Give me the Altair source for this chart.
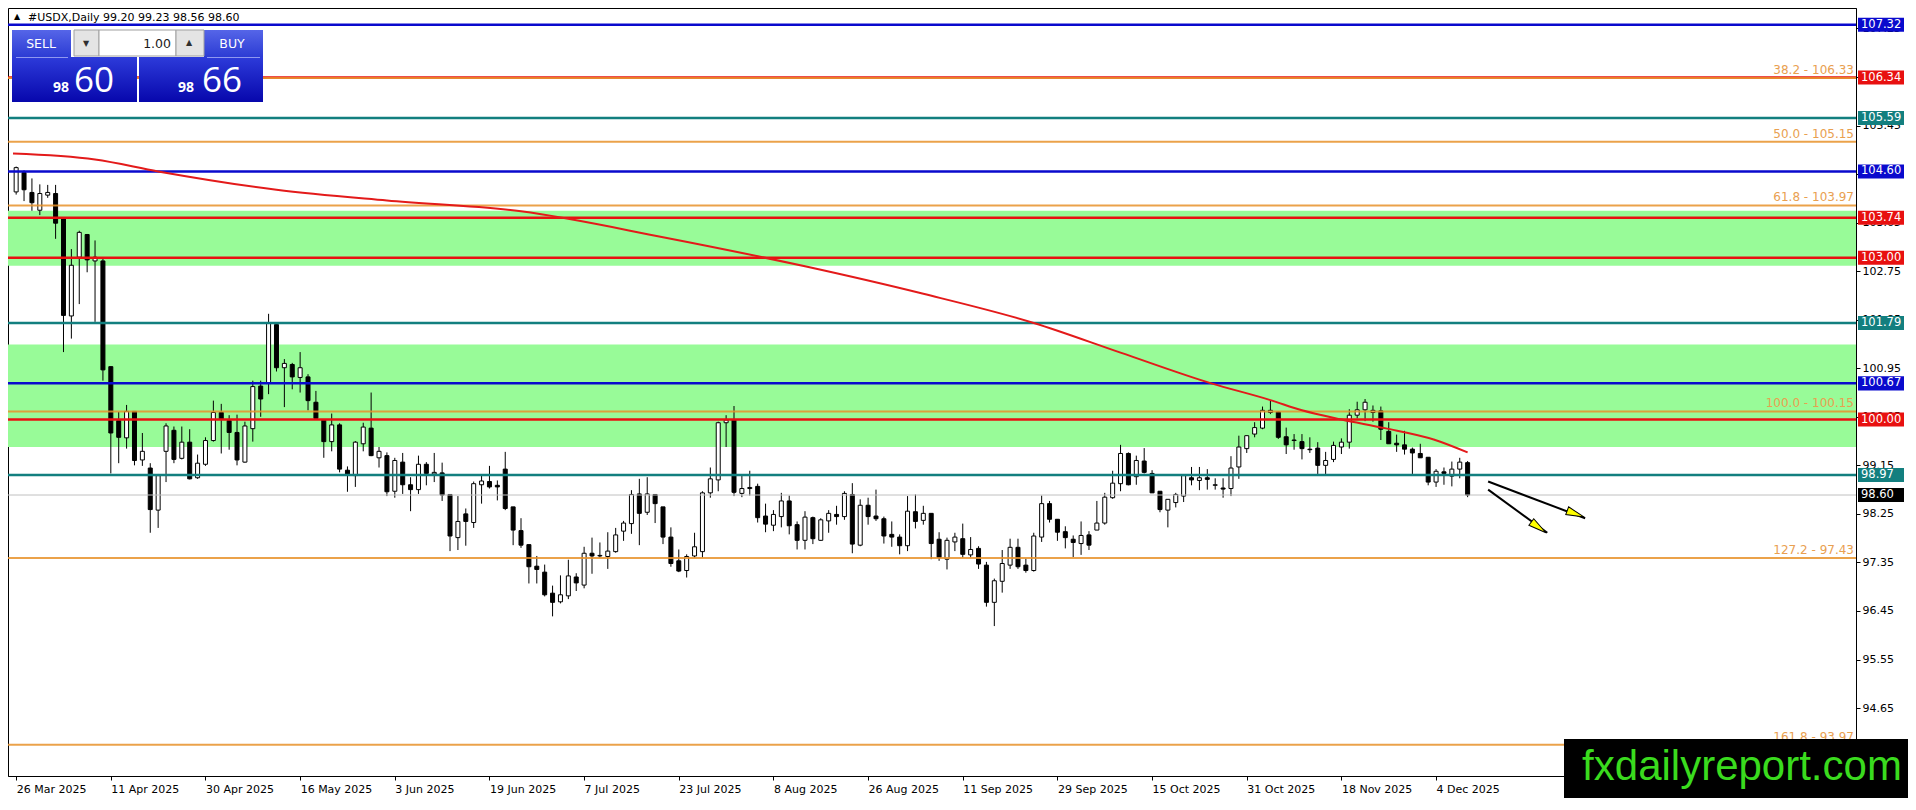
import altair as alt
import pandas as pd

W, H = 1848, 768
X_DOM = [-0.4, 232.6]
Y_DOM = [93.39, 107.63]
FONT = "DejaVu Sans"

# ---------------- data ----------------
opens = [104.22, 104.58, 104.21, 103.88, 104.16, 104.19, 103.72, 101.92, 103.01, 103.43,
         102.94, 102.94, 100.98, 99.98, 99.66, 100.15, 99.25, 99.10, 98.32, 99.41,
         99.80, 99.28, 99.58, 98.92, 99.17, 99.61, 100.13, 99.98, 99.76, 99.21,
         99.83, 100.62, 100.67, 101.76, 100.96, 101.02, 100.78, 100.79, 100.32, 99.99,
         99.59, 99.90, 99.06, 98.96, 99.55, 99.84, 99.29, 99.33, 98.67, 99.21,
         98.79, 98.70, 99.17, 98.99, 99.01, 98.61, 97.81, 98.25, 98.09, 98.79,
         98.85, 98.78, 99.08, 98.38, 97.94, 97.68, 97.28, 97.17, 96.78, 96.62,
         96.73, 97.08, 96.93, 97.52, 97.47, 97.46, 97.55, 97.93, 98.07, 98.62,
         98.28, 98.61, 98.38, 97.82, 97.38, 97.20, 97.47, 97.55, 98.64, 98.88,
         99.94, 99.99, 98.63, 98.72, 98.76, 98.21, 98.04, 98.20, 98.49, 98.05,
         97.76, 98.18, 97.76, 98.12, 98.24, 98.20, 98.61, 97.67, 98.41, 98.21,
         98.16, 97.87, 97.82, 97.66, 98.29, 98.13, 98.26, 97.78, 97.41, 97.73,
         97.79, 97.49, 97.61, 97.30, 96.61, 97.00, 97.30, 97.63, 97.30, 97.20,
         97.82, 98.44, 98.15, 97.92, 97.78, 97.70, 97.86, 97.95, 98.08, 98.55,
         98.81, 99.37, 98.94, 99.23, 99.00, 98.67, 98.32, 98.46, 98.58, 98.92,
         98.87, 98.92, 98.78, 98.73, 98.72, 99.12, 99.46, 99.73, 99.84, 100.13,
         100.14, 99.68, 99.62, 99.59, 99.45, 99.47, 99.15, 99.26, 99.49, 99.58,
         100.08, 100.18, 100.13, 100.16, 99.78, 99.56, 99.53, 99.45, 99.37, 99.30,
         98.84, 99.03, 98.95, 99.08, 99.20]
highs = [104.69, 104.62, 104.47, 104.36, 104.35, 104.35, 103.75, 103.16, 103.50, 103.44,
         103.32, 102.99, 100.98, 100.14, 100.27, 100.15, 99.75, 99.19, 98.99, 99.93,
         99.87, 99.87, 99.82, 99.35, 99.67, 100.35, 100.29, 100.08, 100.09, 99.96,
         100.72, 100.72, 101.96, 101.79, 101.12, 101.05, 101.25, 100.84, 100.53, 100.00,
         100.11, 99.93, 99.13, 99.60, 99.94, 100.50, 99.49, 99.39, 99.29, 99.38,
         98.93, 99.33, 99.21, 99.38, 99.20, 98.61, 98.58, 98.35, 98.85, 98.96,
         99.14, 98.87, 99.40, 98.38, 98.17, 97.68, 97.47, 97.31, 96.92, 97.11,
         97.40, 97.15, 97.64, 97.81, 97.72, 97.91, 97.99, 98.12, 98.69, 98.90,
         98.93, 98.61, 98.38, 98.00, 97.59, 97.50, 97.90, 98.67, 99.11, 99.96,
         100.08, 100.25, 98.96, 99.05, 98.81, 98.44, 98.32, 98.64, 98.59, 98.11,
         98.30, 98.20, 98.17, 98.32, 98.40, 98.67, 98.82, 98.52, 98.55, 98.70,
         98.20, 98.11, 97.87, 98.58, 98.61, 98.40, 98.26, 97.91, 97.81, 97.90,
         98.07, 97.82, 97.65, 97.36, 97.05, 97.58, 97.79, 97.79, 97.42, 97.90,
         98.59, 98.49, 98.15, 98.02, 97.85, 98.11, 97.93, 98.49, 98.64, 99.05,
         99.53, 99.39, 99.33, 99.47, 99.06, 98.67, 98.52, 98.64, 98.96, 99.12,
         99.12, 99.08, 98.91, 98.91, 99.32, 99.70, 99.70, 99.95, 100.24, 100.35,
         100.15, 99.85, 99.73, 99.73, 99.67, 99.58, 99.40, 99.59, 99.65, 100.19,
         100.33, 100.38, 100.26, 100.24, 99.95, 99.72, 99.79, 99.48, 99.55, 99.30,
         99.08, 99.11, 99.22, 99.29, 99.23]
lows = [104.17, 104.05, 103.87, 103.79, 104.11, 103.35, 101.25, 101.50, 102.14, 102.73,
        101.81, 100.72, 99.00, 99.19, 99.46, 99.15, 99.14, 97.90, 97.99, 98.84,
        99.19, 99.26, 98.89, 98.90, 99.14, 99.59, 99.37, 99.44, 99.15, 99.20,
        99.59, 100.05, 100.47, 100.89, 100.23, 100.56, 100.50, 100.17, 100.00, 99.29,
        99.41, 99.02, 98.66, 98.75, 99.41, 99.32, 99.11, 98.58, 98.55, 98.62,
        98.30, 98.62, 98.78, 98.84, 98.49, 97.56, 97.58, 97.66, 97.99, 98.44,
        98.72, 98.50, 98.32, 97.67, 97.62, 96.96, 96.96, 96.72, 96.35, 96.59,
        96.67, 96.82, 96.87, 97.14, 97.44, 97.23, 97.53, 97.75, 97.88, 97.67,
        98.23, 98.08, 97.69, 97.27, 97.17, 97.07, 97.44, 97.44, 98.55, 98.67,
        99.49, 98.58, 98.56, 98.59, 98.09, 97.91, 97.93, 98.00, 97.87, 97.59,
        97.59, 97.69, 97.75, 97.90, 98.05, 98.14, 97.52, 97.65, 98.05, 98.12,
        97.70, 97.64, 97.50, 97.56, 97.98, 98.05, 97.41, 97.38, 97.22, 97.56,
        97.44, 97.44, 97.23, 96.53, 96.17, 96.79, 97.23, 97.23, 97.16, 97.18,
        97.73, 98.09, 97.75, 97.61, 97.45, 97.49, 97.58, 97.95, 98.05, 98.53,
        98.67, 98.78, 98.79, 99.00, 98.64, 98.28, 98.00, 98.37, 98.47, 98.78,
        98.69, 98.70, 98.70, 98.55, 98.58, 98.90, 99.38, 99.67, 99.82, 100.10,
        99.64, 99.36, 99.44, 99.26, 99.38, 98.99, 98.99, 99.21, 99.36, 99.46,
        100.02, 99.97, 99.96, 99.62, 99.55, 99.40, 99.35, 98.99, 99.29, 98.78,
        98.75, 98.79, 98.76, 98.91, 98.56]
closes = [104.67, 104.26, 104.02, 104.19, 104.21, 103.64, 101.93, 102.86, 103.47, 102.96,
          103.01, 100.92, 99.75, 99.67, 100.15, 99.24, 99.41, 98.33, 98.96, 99.88,
          99.26, 99.58, 98.90, 99.19, 99.61, 100.13, 100.00, 99.76, 99.25, 99.88,
          100.61, 100.38, 101.78, 100.96, 101.04, 100.79, 100.96, 100.35, 100.02, 99.59,
          99.90, 99.08, 98.99, 99.58, 99.86, 99.33, 99.41, 98.66, 99.24, 98.79,
          98.70, 99.17, 99.00, 99.02, 98.60, 97.84, 98.11, 98.11, 98.81, 98.86,
          98.75, 98.75, 98.35, 97.95, 97.67, 97.27, 97.22, 96.75, 96.61, 96.75,
          97.10, 96.97, 97.52, 97.47, 97.48, 97.56, 97.86, 98.08, 98.61, 98.26,
          98.62, 98.44, 97.82, 97.33, 97.19, 97.46, 97.64, 98.64, 98.90, 99.94,
          99.99, 98.65, 98.72, 98.74, 98.18, 98.06, 98.24, 98.49, 98.03, 97.76,
          98.19, 97.79, 98.14, 98.26, 98.20, 98.63, 97.69, 98.41, 98.20, 98.16,
          97.84, 97.82, 97.66, 98.30, 98.11, 98.26, 97.70, 97.44, 97.76, 97.82,
          97.50, 97.59, 97.32, 96.61, 97.01, 97.33, 97.63, 97.27, 97.20, 97.84,
          98.44, 98.15, 97.91, 97.81, 97.72, 97.85, 97.67, 98.08, 98.56, 98.82,
          99.37, 98.79, 99.24, 99.02, 98.64, 98.33, 98.52, 98.61, 98.96, 98.88,
          98.92, 98.89, 98.79, 98.71, 99.10, 99.49, 99.70, 99.85, 100.17, 100.17,
          99.67, 99.53, 99.61, 99.46, 99.44, 99.15, 99.24, 99.52, 99.58, 100.08,
          100.18, 100.32, 100.17, 99.82, 99.55, 99.53, 99.45, 99.38, 99.29, 98.84,
          99.04, 99.00, 99.08, 99.21, 98.60]

date_labels = ["26 Mar 2025", "11 Apr 2025", "30 Apr 2025", "16 May 2025", "3 Jun 2025",
               "19 Jun 2025", "7 Jul 2025", "23 Jul 2025", "8 Aug 2025", "26 Aug 2025",
               "11 Sep 2025", "29 Sep 2025", "15 Oct 2025", "31 Oct 2025", "18 Nov 2025",
               "4 Dec 2025"]
date_ticks = [0, 12, 24, 36, 48, 60, 72, 84, 96, 108, 120, 132, 144, 156, 168, 180]
y_ticks = [94.65, 95.55, 96.45, 97.35, 98.25, 99.15, 100.05, 100.95, 101.85,
           102.75, 103.65, 104.55, 105.45, 106.35, 107.25]

ma_idx = [-0.4, 10, 18, 33, 47, 64, 82, 100, 115, 129, 140, 151.5, 159, 163, 168, 173.5, 179.7, 184]
ma_val = [104.93, 104.82, 104.60, 104.26, 104.06, 103.86, 103.38, 102.84, 102.33, 101.79,
          101.24, 100.67, 100.36, 100.17, 100.00, 99.84, 99.63, 99.39]

zone_hi = [103.87, 101.39]
zone_lo = [102.85, 99.49]

BLUE, RED, TEAL = "#0A0ACD", "#E81010", "#137F7F"
sr_vals = [107.32, 106.34, 105.59, 104.60, 103.74, 103.00, 101.79, 100.67, 100.00, 98.97]
sr_cols = [BLUE, RED, TEAL, BLUE, RED, RED, TEAL, BLUE, RED, TEAL]

fib_pct = ["38.2", "50.0", "61.8", "100.0", "127.2", "161.8"]
fib_vals = [106.33, 105.15, 103.97, 100.15, 97.43, 93.97]

bid_val = 98.60

arr_x0 = [186.6, 186.6]
arr_y0 = [98.85, 98.70]
arr_x1 = [198.9, 194.1]
arr_y1 = [98.17, 97.90]
head_x = [197.7, 193.0]
head_y = [98.25, 98.00]
head_ang = [110.5, 126.3]

# ---------------- chart ----------------
candles = pd.DataFrame({"i": list(range(len(opens))), "o": opens, "h": highs, "l": lows, "c": closes})
ma_df = pd.DataFrame({"i": ma_idx, "v": ma_val})
zones = pd.DataFrame({"hi": zone_hi, "lo": zone_lo})
sr_df = pd.DataFrame({"v": sr_vals, "col": sr_cols})
fib_df = pd.DataFrame({"p": fib_pct, "v": fib_vals})
box_df = pd.DataFrame({"v": sr_vals + [bid_val], "col": sr_cols + ["#000000"]})
arr_df = pd.DataFrame({"x0": arr_x0, "y0": arr_y0, "x1": arr_x1, "y1": arr_y1})
head_df = pd.DataFrame({"x": head_x, "y": head_y, "ang": head_ang})
bid_df = pd.DataFrame({"v": [bid_val]})
dummy = pd.DataFrame({"z": [0]})

xs = alt.Scale(domain=X_DOM, zero=False, nice=False)
ys = alt.Scale(domain=Y_DOM, zero=False, nice=False)

label_expr = "[" + ",".join("'%s'" % d for d in date_labels) + "][round(datum.value/12)]"
xaxis = alt.Axis(values=date_ticks, labelExpr=label_expr, labelAlign="left", labelFlush=False,
                 labelOverlap=False, tickSize=4, tickColor="black", domainColor="black",
                 labelColor="black", labelFont=FONT, labelFontSize=11, labelPadding=3,
                 grid=False, title=None)
yaxis = alt.Axis(orient="right", values=y_ticks, format=".2f", tickSize=4, tickColor="black",
                 domainColor="black", labelColor="black", labelFont=FONT, labelFontSize=11,
                 labelPadding=2, labelOverlap=False, labelFlush=False, grid=False, title=None)


def X(f):
    return alt.X(f, type="quantitative", scale=xs, axis=xaxis)


def Y(f):
    return alt.Y(f, type="quantitative", scale=ys, axis=yaxis)


layers = []

layers.append(alt.Chart(zones).mark_rect(color="#98FB98").encode(
    x=alt.value(0), x2=alt.value(W), y=Y("hi"), y2=alt.Y2("lo")))

layers.append(alt.Chart(candles).mark_rule(color="black", strokeWidth=1).encode(
    x=X("i"), y=Y("h"), y2=alt.Y2("l")))
layers.append(alt.Chart(candles).transform_calculate(
    fc="datum.c >= datum.o ? '#ffffff' : '#000000'"
).mark_bar(size=4, stroke="black", strokeWidth=1).encode(
    x=X("i"), y=Y("o"), y2=alt.Y2("c"), fill=alt.Fill("fc:N", scale=None)))

layers.append(alt.Chart(bid_df).mark_rule(color="#C0C0C0", strokeWidth=1).encode(y=Y("v")))
layers.append(alt.Chart(sr_df).mark_rule(strokeWidth=2.5).encode(
    y=Y("v"), color=alt.Color("col:N", scale=None)))
layers.append(alt.Chart(fib_df).mark_rule(strokeWidth=2, color="#E8922A", opacity=0.85).encode(y=Y("v")))
layers.append(alt.Chart(fib_df).transform_calculate(
    lbl="datum.p + ' - ' + format(datum.v, '.2f')"
).mark_text(align="right", baseline="bottom", dy=-1, color="#E9A050", font=FONT, fontSize=12).encode(
    x=alt.value(W - 2), y=Y("v"), text="lbl:N"))

layers.append(alt.Chart(ma_df).mark_line(color="#E31A1A", strokeWidth=2, interpolate="monotone").encode(
    x=X("i"), y=Y("v")))

layers.append(alt.Chart(arr_df).mark_rule(color="black", strokeWidth=2).encode(
    x=X("x0"), y=Y("y0"), x2=alt.X2("x1"), y2=alt.Y2("y1")))
layers.append(alt.Chart(head_df).mark_point(
    shape="M0,-1L0.45,1L-0.45,1Z", filled=True, fill="#FFFF00", stroke="black",
    strokeWidth=1, size=330, opacity=1).encode(
    x=X("x"), y=Y("y"), angle=alt.Angle("ang:Q", scale=None)))

# price boxes on the right axis
layers.append(alt.Chart(box_df).transform_calculate(
    t="datum.v + 0.13", b="datum.v - 0.13"
).mark_rect().encode(
    x=alt.value(W + 2), x2=alt.value(W + 48), y=Y("t:Q"), y2=alt.Y2("b:Q"),
    fill=alt.Fill("col:N", scale=None)))
layers.append(alt.Chart(box_df).transform_calculate(
    lbl="format(datum.v, '.2f')"
).mark_text(align="left", baseline="middle", color="white", font=FONT, fontSize=11.5).encode(
    x=alt.value(W + 5), y=Y("v"), text="lbl:N"))


def prect(x0, y0, x1, y1, **kw):
    return alt.Chart(dummy).mark_rect(**kw).encode(
        x=alt.value(x0), x2=alt.value(x1), y=alt.value(y0), y2=alt.value(y1))


def ptext(x, y, s, **kw):
    return alt.Chart(dummy).mark_text(text=s, **kw).encode(x=alt.value(x), y=alt.value(y))


grad_head = {"gradient": "linear", "x1": 0, "y1": 0, "x2": 0, "y2": 1,
             "stops": [{"offset": 0, "color": "#5565E8"}, {"offset": 1, "color": "#2C3CD4"}]}
grad_body = {"gradient": "linear", "x1": 0, "y1": 0, "x2": 0, "y2": 1,
             "stops": [{"offset": 0, "color": "#2D3BDA"}, {"offset": 1, "color": "#0707AC"}]}

# trade panel
layers += [
    prect(4, 22, 63, 49, fill=grad_head),
    prect(4, 49, 129, 94, fill=grad_body),
    prect(196, 22, 255, 49, fill=grad_head),
    prect(131, 49, 255, 94, fill=grad_body),
    prect(8, 49, 60, 50, fill="#8F98F0"),
    prect(199, 49, 252, 50, fill="#8F98F0"),
    prect(66, 22, 91, 48, fill="#E4E4E4", stroke="#A0A0A0", strokeWidth=1),
    prect(91, 22, 168, 48, fill="#FFFFFF", stroke="#A0A0A0", strokeWidth=1),
    prect(168, 22, 196, 48, fill="#E4E4E4", stroke="#A0A0A0", strokeWidth=1),
    ptext(33, 36, "SELL", align="center", baseline="middle", color="white", font=FONT, fontSize=12.5),
    ptext(224, 36, "BUY", align="center", baseline="middle", color="white", font=FONT, fontSize=12.5),
    ptext(163, 36, "1.00", align="right", baseline="middle", color="#1A1A1A", font=FONT, fontSize=12.5),
    ptext(78, 36, "▼", align="center", baseline="middle", color="#303030", font=FONT, fontSize=8),
    ptext(181, 35, "▲", align="center", baseline="middle", color="#303030", font=FONT, fontSize=8),
    ptext(45, 84, "98", align="left", baseline="alphabetic", color="white", font="Open Sans",
          fontSize=14, fontWeight="bold"),
    ptext(66, 84, "60", align="left", baseline="alphabetic", color="white", font="Open Sans", fontSize=35),
    ptext(170, 84, "98", align="left", baseline="alphabetic", color="white", font="Open Sans",
          fontSize=14, fontWeight="bold"),
    ptext(194, 84, "66", align="left", baseline="alphabetic", color="white", font="Open Sans", fontSize=35),
]

# chart caption
layers += [
    ptext(9, 9, "▲", align="center", baseline="middle", color="black", font=FONT, fontSize=8),
    ptext(20, 13, "#USDX,Daily  99.20 99.23 98.56 98.60", align="left", baseline="alphabetic",
          color="black", font=FONT, fontSize=11),
]

# watermark
layers += [
    prect(1556, 731, 1900, 800, fill="#000000"),
    ptext(1734, 772, "fxdailyreport.com", align="center", baseline="alphabetic", color="#3ADB1E",
          font="Liberation Sans", fontSize=42),
]

chart = alt.layer(*layers).properties(
    width=W, height=H,
    autosize=alt.AutoSizeParams(type="none"),
    padding={"left": 0, "top": 0, "right": 52, "bottom": 22},
).configure(background="white", font=FONT).configure_view(stroke="black", strokeWidth=1)

chart.save("out.html", embed_options={"renderer": "svg", "actions": False})
